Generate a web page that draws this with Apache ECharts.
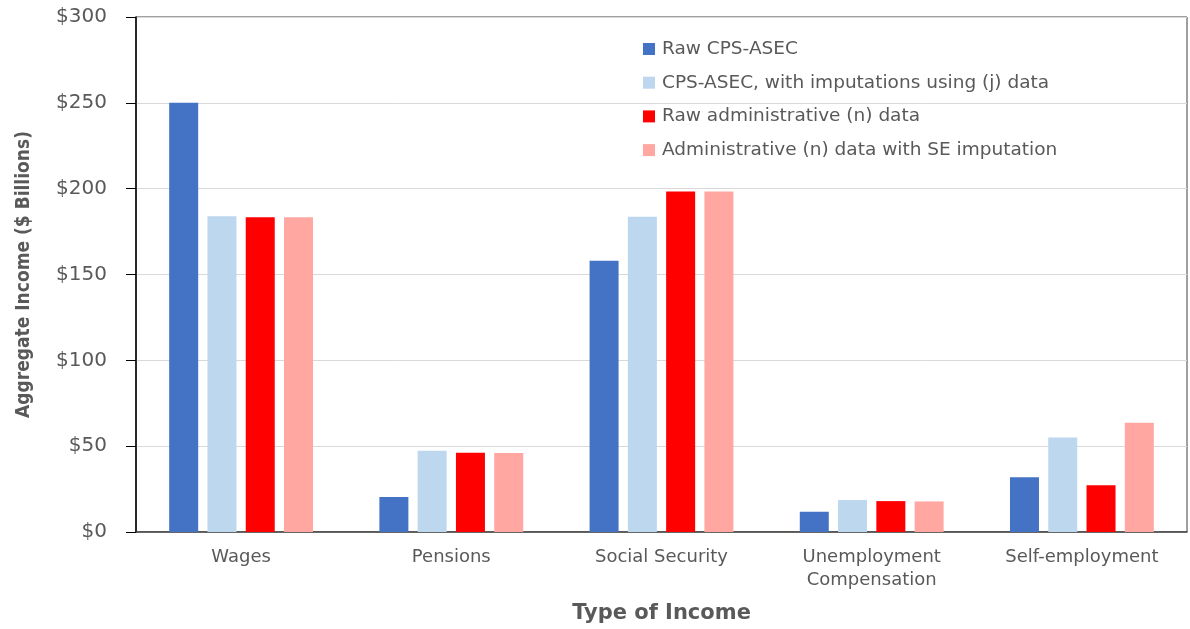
<!DOCTYPE html>
<html>
<head>
<meta charset="utf-8">
<script src="https://cdn.jsdelivr.net/npm/echarts@6/dist/echarts.min.js"></script>
<style>
  html, body { margin: 0; padding: 0; background: #fff; }
  #chart { width: 1190px; height: 629px; }
</style>
</head>
<body>
<div id="chart"></div>
<script>
// Income types along the x axis
const categories = ['Wages', 'Pensions', 'Social Security', 'Unemployment\nCompensation', 'Self-employment'];

// Aggregate income, $ billions, per source
const rawCps = [250, 20.4, 158, 11.8, 31.9];
const cpsWithJ = [184, 47.4, 183.6, 18.6, 55];
const rawAdminN = [183.4, 46.1, 198.3, 18.0, 27.3];
const adminNWithSE = [183.4, 46.0, 198.3, 17.8, 63.7];

const seriesNames = [
  'Raw CPS-ASEC',
  'CPS-ASEC, with imputations using (j) data',
  'Raw administrative (n) data',
  'Administrative (n) data with SE imputation'
];
const seriesValues = [rawCps, cpsWithJ, rawAdminN, adminNWithSE];
const seriesColors = ['#4472C4', '#BDD7EE', '#FF0000', '#FFA7A0'];

const yTicks = { min: 0, max: 300, interval: 50 };

const gray = '#595959';

const chart = echarts.init(document.getElementById('chart'), null, { renderer: 'canvas' });

chart.setOption({
  backgroundColor: '#ffffff',
  animation: false,
  grid: {
    left: 136, right: 3, top: 17, bottom: 95,
    show: true, borderColor: '#404040', borderWidth: 1, backgroundColor: 'transparent'
  },
  legend: {
    orient: 'vertical',
    left: 638,
    top: 34,
    itemWidth: 12,
    itemHeight: 12,
    itemGap: 13.7,
    icon: 'rect',
    textStyle: { fontFamily: 'DejaVu Sans', fontSize: 18.5, color: gray, lineHeight: 20, padding: [0, 0, 0, 2] },
    data: seriesNames
  },
  xAxis: {
    type: 'category',
    data: categories,
    name: 'Type of Income',
    nameLocation: 'middle',
    nameGap: 71,
    nameTextStyle: { fontFamily: 'DejaVu Sans', fontWeight: 'bold', fontSize: 21, color: gray },
    axisLine: { lineStyle: { color: '#404040', width: 1.5 } },
    axisTick: { show: false },
    axisLabel: {
      fontFamily: 'DejaVu Sans', fontSize: 18, color: gray, margin: 14, lineHeight: 23, interval: 0
    },
    splitLine: { show: false }
  },
  yAxis: {
    type: 'value',
    min: yTicks.min,
    max: yTicks.max,
    interval: yTicks.interval,
    name: 'Aggregate Income ($ Billions)',
    nameLocation: 'middle',
    nameGap: 102,
    nameRotate: 90,
    nameTextStyle: {
      fontFamily: "'DejaVu Sans Condensed', sans-serif",
      fontWeight: 'bold', fontSize: 19, color: gray
    },
    axisLine: { show: true, lineStyle: { color: '#000000', width: 1.5 } },
    axisTick: { show: true, length: 10, lineStyle: { color: '#000000', width: 1 } },
    axisLabel: {
      fontFamily: 'DejaVu Sans', fontSize: 20, color: gray, margin: 29,
      formatter: v => '$' + v
    },
    splitLine: { lineStyle: { color: '#D9D9D9', width: 1 } }
  },
  series: seriesNames.map((name, i) => ({
    name,
    type: 'bar',
    data: seriesValues[i],
    barWidth: 29,
    barGap: '32%',
    itemStyle: { color: seriesColors[i] }
  }))
});
</script>
</body>
</html>
